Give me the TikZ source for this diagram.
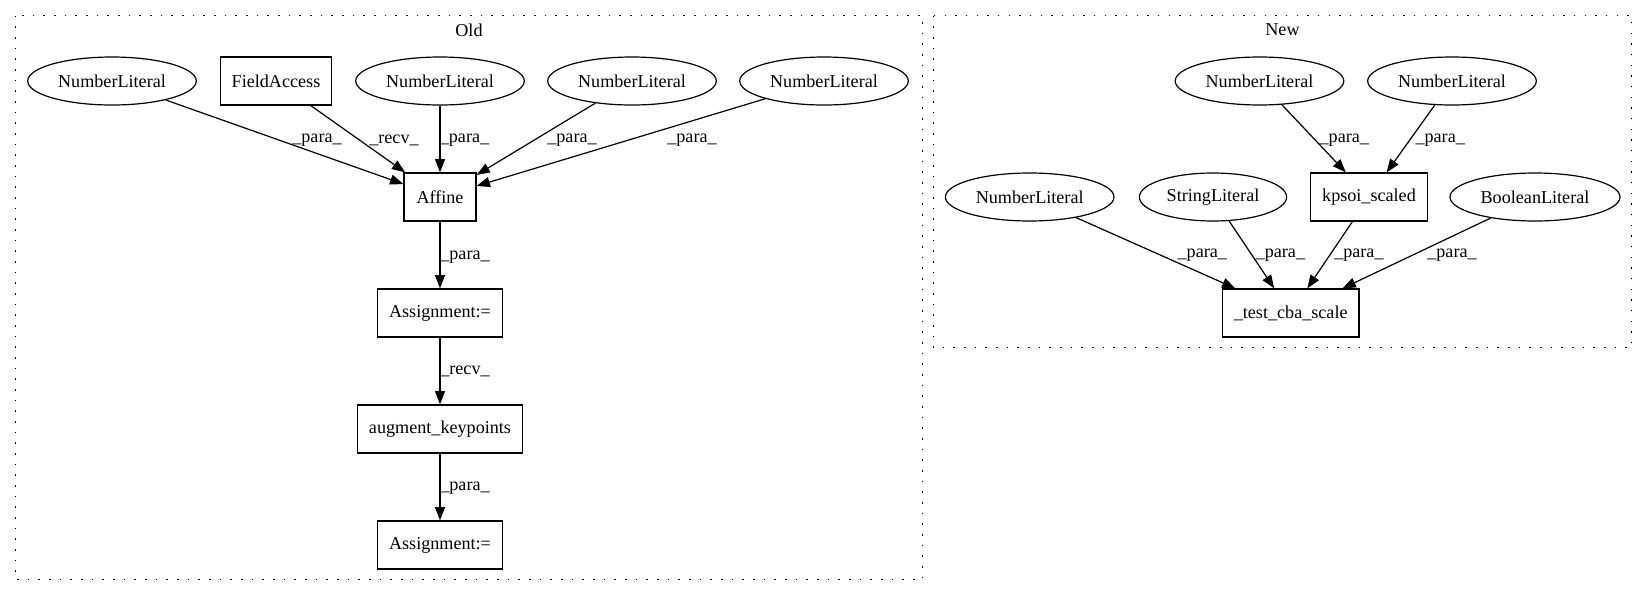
\documentclass[tikz,border=0pt]{standalone}
\usepackage{fontspec}
\setmainfont{Liberation Serif}
\usetikzlibrary{arrows.meta,shapes.geometric}
\newcommand{\gvsize}{\fontsize{13.6}{16}\selectfont}
\tikzset{
 every node/.append style={font=\gvsize,text=black},
 box/.style={draw,rectangle,line width=.9pt,inner xsep=8.5pt,minimum width=54pt,minimum height=36pt},
 lit/.style={draw,ellipse,line width=.9pt,inner xsep=4.3pt,minimum height=36pt},
 word/.style={inner sep=0pt},
 title/.style={inner sep=0pt},
 flow/.style={-{Triangle[length=10pt,width=7.5pt]},line width=.9pt},
 cluster/.style={line width=1.1pt,dash pattern=on 1.2pt off 6.8pt},
}

\begin{document}
\begin{tikzpicture}[x=.75pt,y=-.75pt]

\useasboundingbox (0,0) rectangle (1648,596);
% clusters
\draw[cluster] (15.7,15.7) rectangle (922.3,579.7);
\node[title] (oldtitle) at (469,30) {Old};
\draw[cluster] (933.3,15.7) rectangle (1631.7,347.7);
\node[title] (newtitle) at (1282.5,30) {New};

% old
\node[lit] (numA) at (112,81) {NumberLiteral};
\node[box] (field) at (276,81) {FieldAccess};
\node[lit] (numB) at (440,81) {NumberLiteral};
\node[lit] (numC) at (632,81) {NumberLiteral};
\node[lit] (numD) at (824,81) {NumberLiteral};
\node[box] (affine) at (440,197) {Affine};
\node[box] (assignA) at (440,313) {Assignment:=};
\node[box] (augment) at (440,429) {augment\_keypoints};
\node[box] (assignB) at (440,545) {Assignment:=};
\draw[flow] (numA) -- (affine) node[word] at (317,140) {\_para\_};
\draw[flow] (field) -- (affine) node[word] at (394,140) {\_recv\_};
\draw[flow] (numB) -- (affine) node[word] at (464.5,140) {\_para\_};
\draw[flow] (numC) -- (affine) node[word] at (572,140) {\_para\_};
\draw[flow] (numD) -- (affine) node[word] at (692,140) {\_para\_};
\draw[flow] (affine) -- (assignA) node[word] at (465,257) {\_para\_};
\draw[flow] (assignA) -- (augment) node[word] at (465,371) {\_recv\_};
\draw[flow] (augment) -- (assignB) node[word] at (465,488) {\_para\_};

% new
\node[lit] (numE) at (1259.5,81) {NumberLiteral};
\node[lit] (numF) at (1452,81) {NumberLiteral};
\node[lit] (numG) at (1029.7,197) {NumberLiteral};
\node[lit] (strlit) at (1213,197) {StringLiteral};
\node[box] (kpsoi) at (1369,197) {kpsoi\_scaled};
\node[lit] (boollit) at (1535,197) {BooleanLiteral};
\node[box] (testcba) at (1290.7,313) {\_test\_cba\_scale};
\draw[flow] (numE) -- (kpsoi) node[word] at (1344.3,140) {\_para\_};
\draw[flow] (numF) -- (kpsoi) node[word] at (1440.2,140) {\_para\_};
\draw[flow] (numG) -- (testcba) node[word] at (1202.3,255) {\_para\_};
\draw[flow] (strlit) -- (testcba) node[word] at (1280.4,255) {\_para\_};
\draw[flow] (kpsoi) -- (testcba) node[word] at (1358.9,255) {\_para\_};
\draw[flow] (boollit) -- (testcba) node[word] at (1452,255) {\_para\_};

\end{tikzpicture}
\end{document}
